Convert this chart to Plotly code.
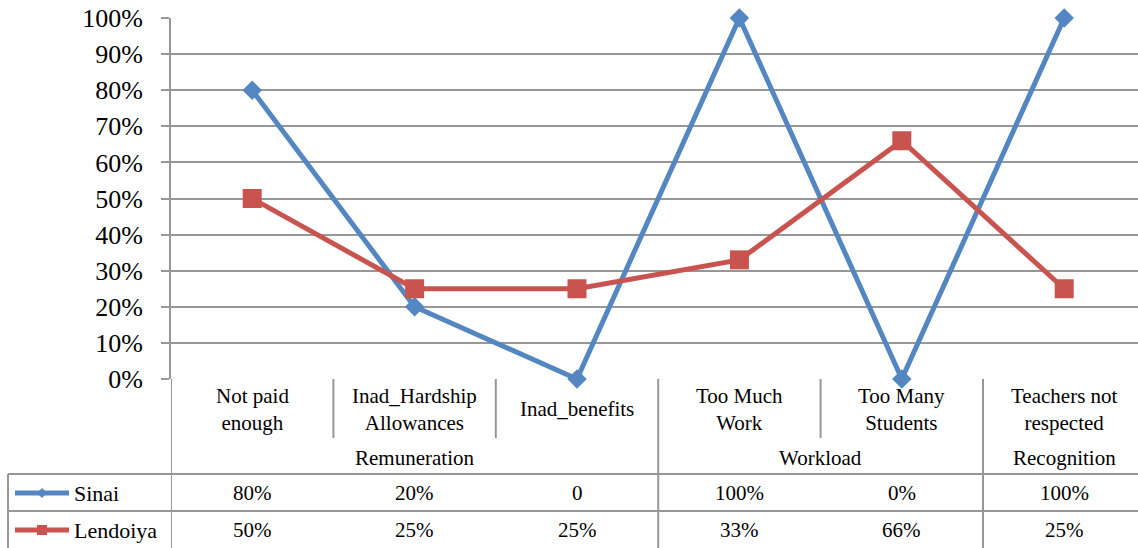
import plotly.graph_objects as go

# Survey data: reasons for teacher attrition, grouped by theme
categories = ["Not paid<br>enough", "Inad_Hardship<br>Allowances", "Inad_benefits",
              "Too Much<br>Work", "Too Many<br>Students", "Teachers not<br>respected"]
groups = ["Remuneration", "Workload", "Recognition"]
group_spans = [(0, 2), (3, 4), (5, 5)]

sinai = [0.80, 0.20, 0.00, 1.00, 0.00, 1.00]
lendoiya = [0.50, 0.25, 0.25, 0.33, 0.66, 0.25]
sinai_table = ["80%", "20%", "0", "100%", "0%", "100%"]
lendoiya_table = ["50%", "25%", "25%", "33%", "66%", "25%"]

y_ticks = [i / 10 for i in range(11)]
y_ticklabels = [f"{int(round(v * 100))}%" for v in y_ticks]

BLUE = "#5487C2"
RED = "#C9544F"
GRID = "#979797"
FONT = "Liberation Serif"

W, H = 1138, 548


def py(px):
    """pixel row -> paper y"""
    return (H - px) / H


def pxx(px):
    return px / W


x_idx = list(range(len(categories)))
ncat = len(categories)

fig = go.Figure()
fig.add_trace(go.Scatter(
    x=x_idx, y=sinai, mode="lines+markers", name="Sinai",
    line=dict(color=BLUE, width=5),
    marker=dict(symbol="diamond", size=15, color=BLUE),
    cliponaxis=False,
))
fig.add_trace(go.Scatter(
    x=x_idx, y=lendoiya, mode="lines+markers", name="Lendoiya",
    line=dict(color=RED, width=5),
    marker=dict(symbol="square", size=19, color=RED),
    cliponaxis=False,
))

shapes = []
annotations = []

# Data table under the plot: rows of values with category / group headers
axis_y = 379
row1_top, row2_top, bottom = 474, 511, 548
cat_bottom = 438

line_style = dict(color=GRID, width=2)
for yy in (row1_top, row2_top):
    shapes.append(dict(type="line", xref="paper", yref="paper",
                       x0=pxx(8), x1=1, y0=py(yy), y1=py(yy), line=line_style))
shapes.append(dict(type="line", xref="paper", yref="paper",
                   x0=pxx(8), x1=pxx(8), y0=py(row1_top), y1=py(bottom), line=line_style))
group_edges = {s for s, _ in group_spans}
for i in range(ncat):
    xb = i - 0.5
    full = i in group_edges
    shapes.append(dict(type="line", xref="x", yref="paper",
                       x0=xb, x1=xb, y0=py(axis_y),
                       y1=py(bottom) if full else py(cat_bottom),
                       line=line_style))

for i, c in enumerate(categories):
    annotations.append(dict(x=i, y=py(409), xref="x", yref="paper", text=c,
                            showarrow=False, font=dict(family=FONT, size=21, color="black"),
                            xanchor="center", yanchor="middle"))
for g, (a, b) in zip(groups, group_spans):
    annotations.append(dict(x=(a + b) / 2, y=py(458), xref="x", yref="paper", text=g,
                            showarrow=False, font=dict(family=FONT, size=21, color="black"),
                            xanchor="center", yanchor="middle"))
for row_y, vals in ((493, sinai_table), (530, lendoiya_table)):
    for i, t in enumerate(vals):
        annotations.append(dict(x=i, y=py(row_y), xref="x", yref="paper", text=t,
                                showarrow=False, font=dict(family=FONT, size=21, color="black"),
                                xanchor="center", yanchor="middle"))

# Series keys in the first table column
for row_y, name, color, sym in ((493, "Sinai", BLUE, "diamond"), (530, "Lendoiya", RED, "square")):
    shapes.append(dict(type="line", xref="paper", yref="paper",
                       x0=pxx(15), x1=pxx(69), y0=py(row_y), y1=py(row_y),
                       line=dict(color=color, width=5)))
    cx, cy = 42, row_y
    r = 5
    if sym == "diamond":
        path = (f"M {pxx(cx - r)},{py(cy)} L {pxx(cx)},{py(cy - r)} "
                f"L {pxx(cx + r)},{py(cy)} L {pxx(cx)},{py(cy + r)} Z")
        shapes.append(dict(type="path", xref="paper", yref="paper", path=path,
                           fillcolor=color, line=dict(width=0)))
    else:
        shapes.append(dict(type="rect", xref="paper", yref="paper",
                           x0=pxx(cx - r), x1=pxx(cx + r), y0=py(cy + r), y1=py(cy - r),
                           fillcolor=color, line=dict(width=0)))
    annotations.append(dict(x=pxx(72), y=py(row_y), xref="paper", yref="paper", text=name,
                            showarrow=False, font=dict(family=FONT, size=22, color="black"),
                            xanchor="left", yanchor="middle"))

x0_px = 171
span = (W - x0_px) / 162.4

fig.update_layout(
    width=W, height=H,
    font=dict(family=FONT, color="black"),
    margin=dict(l=0, r=0, t=0, b=0, pad=0),
    paper_bgcolor="white", plot_bgcolor="white",
    showlegend=False,
    shapes=shapes,
    annotations=annotations,
    xaxis=dict(
        domain=[pxx(x0_px), 1],
        range=[-0.5, -0.5 + span],
        showticklabels=False, showgrid=False, zeroline=False,
        showline=False, ticks="", fixedrange=True, automargin=False,
    ),
    yaxis=dict(
        domain=[py(axis_y), py(18)],
        range=[0, 1],
        tickvals=y_ticks, ticktext=y_ticklabels,
        tickfont=dict(family=FONT, size=26, color="black"),
        showgrid=True, gridcolor=GRID, gridwidth=2,
        zeroline=False,
        showline=True, linecolor=GRID, linewidth=2,
        ticks="outside", ticklen=8, tickcolor=GRID, tickwidth=2,
        ticklabelstandoff=13,
        fixedrange=True, automargin=False,
    ),
)

fig.write_html("out.html")
